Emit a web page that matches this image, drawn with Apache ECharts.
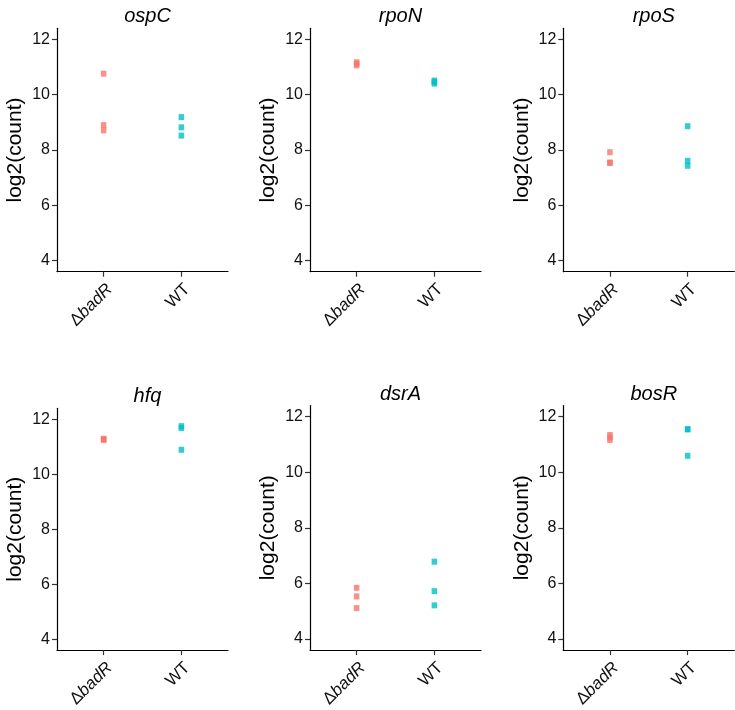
<!DOCTYPE html>
<html>
<head>
<meta charset="utf-8">
<script src="https://cdn.jsdelivr.net/npm/echarts@6/dist/echarts.min.js"></script>
<style>
html,body{margin:0;padding:0;background:#fff;}
#c{width:735px;height:710px;}
</style>
</head>
<body>
<div id="c"></div>
<script>
const genes = ['ospC', 'rpoN', 'rpoS', 'hfq', 'dsrA', 'bosR'];
const groups = ['ΔbadR', 'WT'];
const yTicks = [4, 6, 8, 10, 12];

const ospC_badR = [10.76, 8.90, 8.71];
const ospC_WT   = [9.19, 8.82, 8.52];
const rpoN_badR = [11.06, 11.12, 11.17];
const rpoN_WT   = [10.40, 10.46, 10.51];
const rpoS_badR = [7.92, 7.55, 7.53];
const rpoS_WT   = [8.86, 7.61, 7.43];
const hfq_badR  = [11.25, 11.29, 11.27];
const hfq_WT    = [11.75, 11.68, 10.89];
const dsrA_badR = [5.84, 5.53, 5.11];
const dsrA_WT   = [6.78, 5.72, 5.21];
const bosR_badR = [11.16, 11.25, 11.34];
const bosR_WT   = [11.55, 11.54, 10.59];

const badRValues = [ospC_badR, rpoN_badR, rpoS_badR, hfq_badR, dsrA_badR, bosR_badR];
const wtValues   = [ospC_WT, rpoN_WT, rpoS_WT, hfq_WT, dsrA_WT, bosR_WT];

const colors = ['#F8766D', '#00BFC4'];
const FONT = 'Liberation Sans, Arial, Helvetica, sans-serif';

// panel layout
const lefts = [57, 310, 563.3, 57, 310, 563.3];
const tops = [28.3, 28.3, 28.3, 408.3, 405.5, 405.5];
const heights = [243.4, 243.4, 243.4, 244.4, 246.7, 246.7];
const plotW = 171;
const titleTops = [1, 1, 1, 381, 379.5, 379.5];

const grids = [], xAxes = [], yAxes = [], series = [], titles = [];
genes.forEach((g, i) => {
  grids.push({left: lefts[i], top: tops[i], width: plotW, height: heights[i], containLabel: false});
  titles.push({
    text: g, left: lefts[i] + plotW / 2, top: titleTops[i], textAlign: 'center',
    textStyle: {fontFamily: FONT, fontStyle: 'italic', fontWeight: 'normal', fontSize: 20, color: '#000'}
  });
  xAxes.push({
    type: 'value', gridIndex: i, min: 0.4, max: 2.6,
    axisLine: {show: true, onZero: false, lineStyle: {color: '#000', width: 1.2}},
    axisTick: {show: true, length: 5, customValues: [1, 2], lineStyle: {color: '#333', width: 1.2}},
    splitLine: {show: false},
    axisLabel: {
      customValues: [1, 2], rotate: 45, margin: 9, align: 'right', verticalAlign: 'top',
      fontFamily: FONT, fontSize: 17, color: '#111',
      formatter: v => (v === 1 ? '{d|Δ}{i|badR}' : 'WT'),
      rich: {
        d: {fontFamily: FONT, fontSize: 17, color: '#111'},
        i: {fontFamily: FONT, fontSize: 17, fontStyle: 'italic', color: '#111'}
      }
    }
  });
  yAxes.push({
    type: 'value', gridIndex: i, min: 3.6, max: 12.4,
    name: 'log2(count)', nameLocation: 'middle', nameGap: 31,
    nameTextStyle: {fontFamily: FONT, fontSize: 21, color: '#000'},
    axisLine: {show: true, onZero: false, lineStyle: {color: '#000', width: 1.2}},
    axisTick: {show: true, length: 5, customValues: yTicks, lineStyle: {color: '#333', width: 1.2}},
    splitLine: {show: false},
    axisLabel: {customValues: yTicks, margin: 7, fontFamily: FONT, fontSize: 16, color: '#111'}
  });
  [badRValues[i], wtValues[i]].forEach((vals, k) => {
    series.push({
      type: 'scatter', xAxisIndex: i, yAxisIndex: i,
      symbol: 'rect', symbolSize: [5.5, 6],
      itemStyle: {color: colors[k]},
      data: vals.map(v => [k + 1, v]),
      silent: true
    });
  });
});

const chart = echarts.init(document.getElementById('c'), null, {renderer: 'canvas'});
chart.setOption({
  backgroundColor: '#fff',
  animation: false,
  title: titles,
  grid: grids,
  xAxis: xAxes,
  yAxis: yAxes,
  series: series
});
</script>
</body>
</html>
